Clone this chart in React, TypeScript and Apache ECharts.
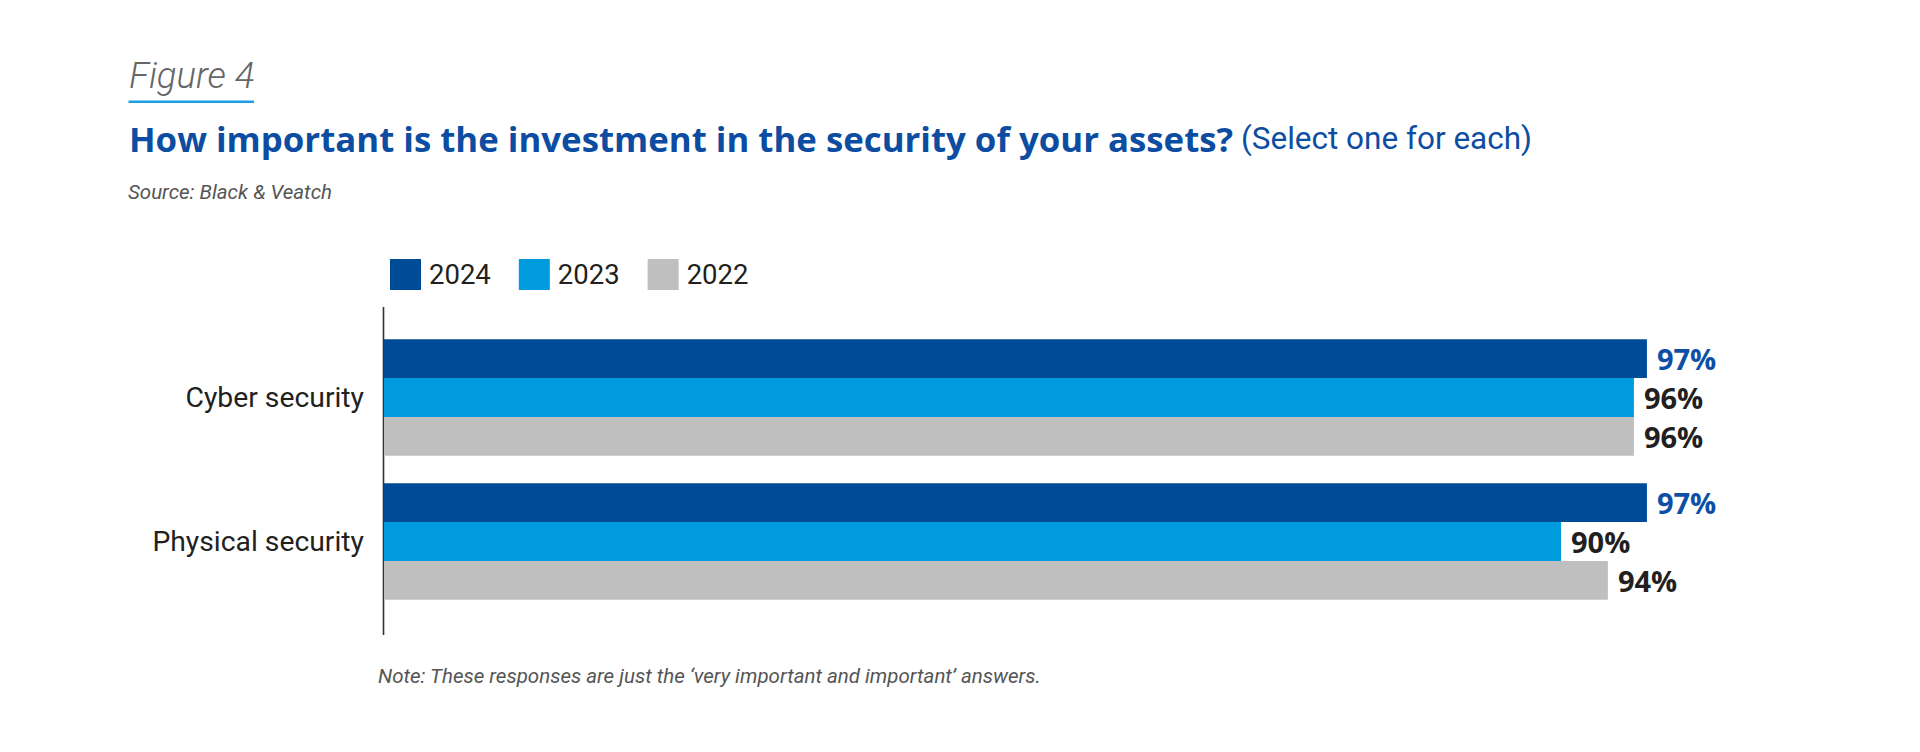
import React, { useEffect, useRef } from "react";
import * as echarts from "echarts";

const categories = ["Cyber security", "Physical security"];
const years = ["2024", "2023", "2022"];
const values2024 = [97, 97];
const values2023 = [96, 90.4];
const values2022 = [96, 94];
const xTicks = { min: 0, max: 100 };

const SANS = "Roboto, sans-serif";

export default function App() {
  const ref = useRef<HTMLDivElement>(null);
  useEffect(() => {
    if (!ref.current) return;
    const chart = echarts.init(ref.current, null, { renderer: "svg" });
    const seriesData = [values2024, values2023, values2022];
    const barColors = ["#004B98", "#009BDE", "#BFBFBF"];
    const labelColors = ["#0D4EA6", "#231F20", "#231F20"];
    chart.setOption({
      animation: false,
      backgroundColor: "#ffffff",
      legend: {
        left: 390,
        top: 259,
        padding: 0,
        icon: "rect",
        itemWidth: 31,
        itemHeight: 31,
        itemGap: 28,
        data: years,
        textStyle: {
          fontFamily: SANS,
          fontSize: 27.5,
          color: "#231F20",
          padding: [0, 0, 0, 3],
        },
      },
      grid: { left: 384, top: 325.5, width: 1302, height: 288, containLabel: false },
      xAxis: {
        type: "value",
        min: xTicks.min,
        max: xTicks.max,
        show: false,
      },
      yAxis: {
        type: "category",
        data: categories,
        inverse: true,
        axisLine: { show: false },
        axisTick: { show: false },
        axisLabel: {
          fontFamily: SANS,
          fontSize: 28.3,
          color: "#231F20",
          margin: 20,
        },
      },
      series: years.map((y, i) => ({
        name: y,
        type: "bar",
        data: seriesData[i],
        barGap: "0%",
        barCategoryGap: "19%",
        itemStyle: { color: barColors[i] },
        label: {
          show: true,
          position: "right",
          distance: 10,
          formatter: (p: any) => Math.round(p.value) + "%",
          fontFamily: "'Open Sans', sans-serif",
          fontWeight: "bold",
          fontSize: 29,
          color: labelColors[i],
        },
      })),
      graphic: [
        {
          type: "text",
          style: {
            text: "Figure 4",
            x: 129,
            y: 75,
            fontFamily: "Roboto",
            fontStyle: "italic",
            fontWeight: 300,
            fontSize: 36.5,
            fill: "#666666",
            verticalAlign: "middle",
          },
        },
        {
          type: "rect",
          shape: { x: 128.5, y: 100.5, width: 125.5, height: 2.5 },
          style: { fill: "#1A9FE0" },
        },
        {
          type: "text",
          style: {
            text: "{a|How important is the investment in the security of your assets?}{b| (Select one for each)}",
            x: 129,
            y: 138,
            verticalAlign: "middle",
            rich: {
              a: {
                fontFamily: "'Open Sans', sans-serif",
                fontWeight: "bold",
                fontSize: 34.8,
                fill: "#0C4DA2",
              },
              b: {
                fontFamily: "Roboto",
                fontWeight: "normal",
                fontSize: 31.5,
                fill: "#0C4DA2",
              },
            },
          },
        },
        {
          type: "text",
          style: {
            text: "Source: Black & Veatch",
            x: 128,
            y: 191.5,
            fontFamily: "Roboto",
            fontStyle: "italic",
            fontSize: 20.5,
            fill: "#555555",
            verticalAlign: "middle",
          },
        },
        {
          type: "line",
          shape: { x1: 383.5, y1: 307, x2: 383.5, y2: 635 },
          style: { stroke: "#333333", lineWidth: 1.6 },
        },
        {
          type: "text",
          style: {
            text: "Note: These responses are just the \u2018very important and important\u2019 answers.",
            x: 378,
            y: 676,
            fontFamily: "Roboto",
            fontStyle: "italic",
            fontSize: 20.5,
            fill: "#555555",
            verticalAlign: "middle",
          },
        },
      ],
    });
    return () => chart.dispose();
  }, []);
  return (
    <div
      ref={ref}
      style={{ position: "absolute", left: 0, top: 0, width: 1920, height: 752 }}
    />
  );
}
